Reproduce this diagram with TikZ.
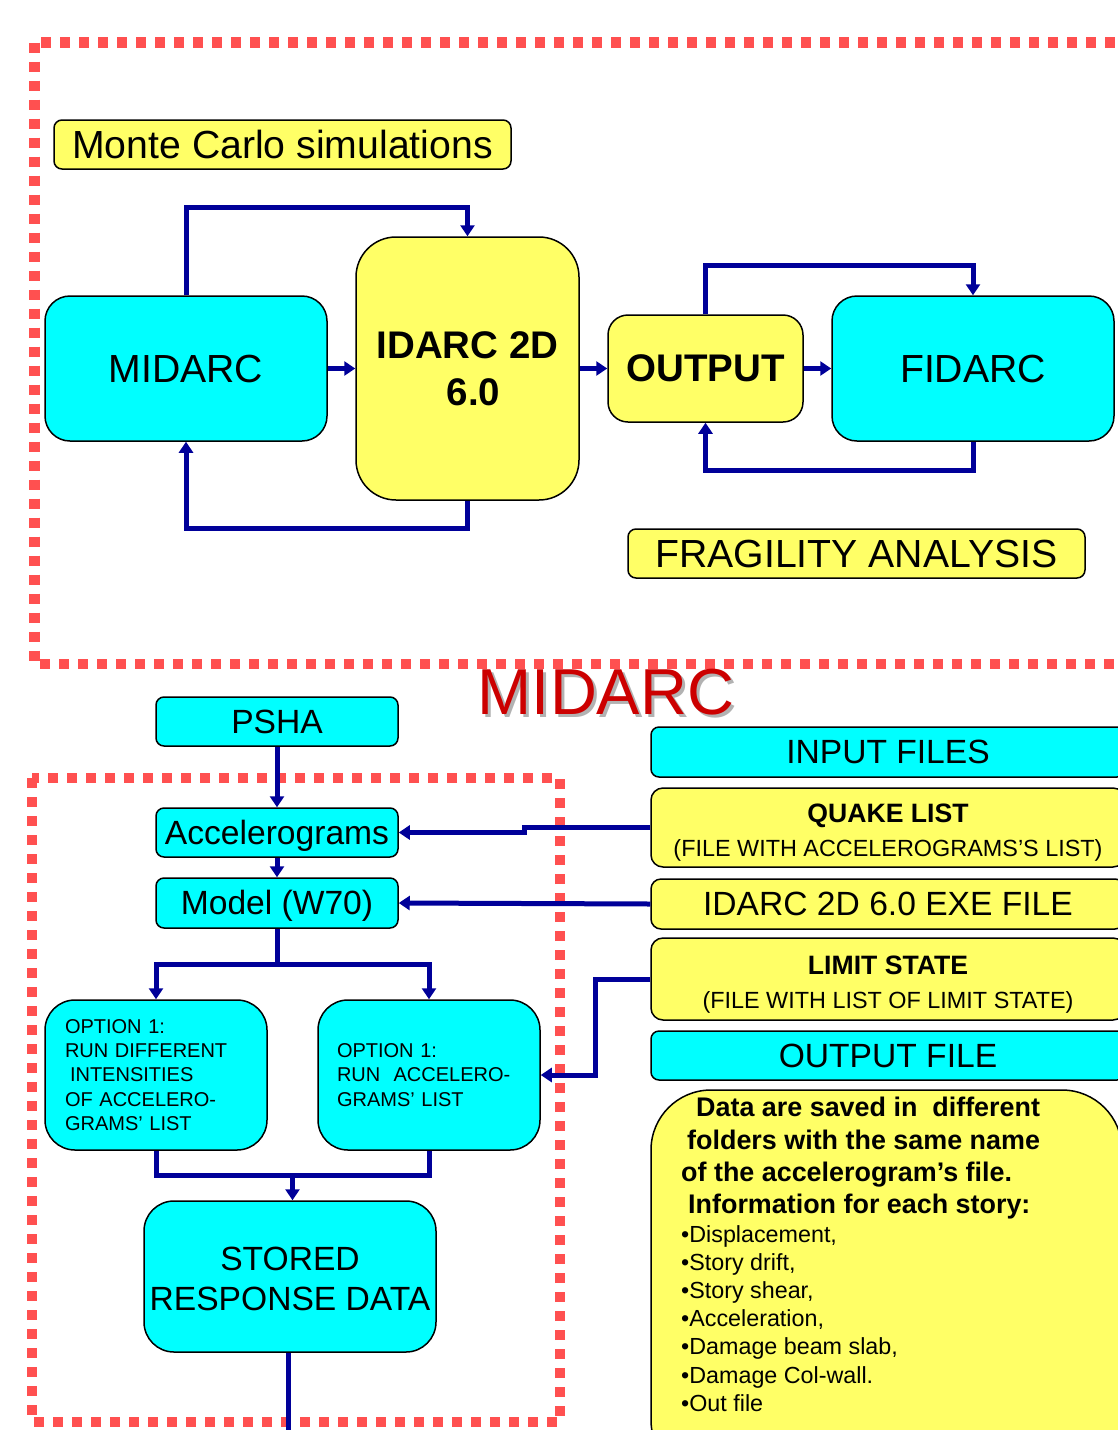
\documentclass[tikz,border=0pt]{standalone}
\usepackage{fontspec}
\setmainfont{Liberation Sans}
\usetikzlibrary{arrows.meta,calc}
\definecolor{cy}{HTML}{00FFFF}
\definecolor{yl}{HTML}{FFFF66}
\definecolor{dred}{HTML}{FF5050}
\definecolor{nav}{HTML}{000099}
\definecolor{tred}{HTML}{CC0000}
\tikzset{
  box/.style={draw=black, line width=1.5pt, align=center, inner sep=0pt},
  cbox/.style={box, fill=cy},
  ybox/.style={box, fill=yl},
  conn/.style={draw=nav, line width=5pt},
  arr/.style={conn, -{Triangle[width=14pt,length=11pt]}},
  redframe/.style={draw=dred, line width=10.5pt, dash pattern=on 10pt off 9pt},
  bigf/.style={font=\fontsize{39.2}{47}\selectfont},
  bigb/.style={font=\bfseries\fontsize{38.5}{47}\selectfont},
  midf/.style={font=\fontsize{33.6}{40}\selectfont},
  optf/.style={font=\fontsize{20}{24.25}\selectfont},
}
\begin{document}
\begin{tikzpicture}[x=1pt,y=-1pt]
\useasboundingbox (0,0) rectangle (1118,1430);
\fill[white] (0,0) rectangle (1118,1430);
\clip (0,0) rectangle (1118,1430);

% dashed frames
\draw[redframe] (34.5,42.5) rectangle (1150,664);
\draw[redframe] (32,778) rectangle (560,1422);

% top part
\node[ybox, rounded corners=8pt, minimum width=457pt, minimum height=49pt, bigf] (monte) at (282.5,144.5) {Monte Carlo simulations};
\node[cbox, rounded corners=25pt, minimum width=282pt, minimum height=145pt, bigf] (midarc) at (186,368.5) {MIDARC};
\node[ybox, rounded corners=40pt, minimum width=223pt, minimum height=263pt, bigb] (idarc) at (467.5,368.5) {IDARC 2D\\\hspace*{12pt}6.0};
\node[ybox, rounded corners=20pt, minimum width=195pt, minimum height=107pt, bigb] (output) at (705.5,368.5) {OUTPUT};
\node[cbox, rounded corners=25pt, minimum width=282pt, minimum height=145pt, bigf] (fidarc) at (973,368.5) {FIDARC};
\node[ybox, rounded corners=8pt, minimum width=457pt, minimum height=49pt, bigf] (frag) at (856.5,553.5) {FRAGILITY ANALYSIS};

\draw[arr] (midarc.east) -- (idarc.west);
\draw[arr] (idarc.east) -- (output.west);
\draw[arr] (output.east) -- (fidarc.west);
\draw[arr] (midarc.north) -- ++(0,-88) -| (idarc.north);
\draw[arr] (idarc.south) -- ++(0,28) -| (midarc.south);
\draw[arr] (output.north) -- ++(0,-49) -| (fidarc.north);
\draw[arr] (fidarc.south) -- ++(0,29) -| (output.south);

% title with shadow
\node[font=\fontsize{65}{70}\selectfont, inner sep=0pt] (title) at (606,694) {\rlap{\kern3pt\raisebox{-3pt}{\color{black!30}MIDARC}}\color{tred}MIDARC};

% lower left
\node[cbox, rounded corners=8pt, minimum width=242pt, minimum height=49pt, midf] (psha) at (277,721.5) {PSHA};
\node[cbox, rounded corners=8pt, minimum width=242pt, minimum height=49pt, midf] (accel) at (277,832.5) {\rule{0pt}{30pt}Accelerograms};
\node[cbox, rounded corners=8pt, minimum width=242pt, minimum height=50pt, midf] (model) at (277,903) {\rule{0pt}{30pt}Model (W70)};
\node[cbox, rounded corners=30pt, minimum width=222pt, minimum height=150pt, text width=182pt, inner xsep=20pt, align=left, optf] (optl) at (156,1075) {OPTION 1:\\RUN DIFFERENT\\\hspace*{5pt}INTENSITIES\\OF ACCELERO-\\GRAMS’ LIST};
\node[cbox, rounded corners=30pt, minimum width=222pt, minimum height=150pt, text width=184pt, inner xsep=19pt, align=left, optf] (optr) at (429,1075) {OPTION 1:\\RUN\ \ ACCELERO-\\GRAMS’ LIST};
\node[cbox, rounded corners=30pt, minimum width=292pt, minimum height=151pt, midf] (stored) at (290,1276.5) {\rule{0pt}{28pt}STORED\\RESPONSE DATA};

\draw[arr] (psha.south) -- (accel.north);
\draw[arr] (accel.south) -- (model.north);
\draw[conn] (model.south) -- ++(0,36) coordinate (split);
\draw[arr] (split) -| (optl.north);
\draw[arr] (split) -| (optr.north);
\draw[conn] (optl.south) -- ++(0,25) -| (optr.south);
\coordinate (merge) at ($(optl.south)!0.5!(optr.south)+(0,25)$);
\draw[arr] (merge) -- (merge |- stored.north);
\coordinate (storedout) at ($(stored.south)+(-2,100)$);
\draw[conn] ([xshift=-2pt]stored.south) -- (storedout);

% right column
\node[cbox, rounded corners=8pt, minimum width=474pt, minimum height=50pt, midf] (inp) at (888,752) {INPUT FILES};
\node[ybox, rounded corners=12pt, minimum width=474pt, minimum height=79pt, font=\fontsize{23.4}{34}\selectfont] (quake) at (888,827.5) {{\bfseries\fontsize{26.6}{32}\selectfont\rule{0pt}{28pt}QUAKE LIST}\\(FILE WITH ACCELEROGRAMS’S LIST)};
\node[ybox, rounded corners=10pt, minimum width=474pt, minimum height=50pt, midf] (exe) at (888,904) {IDARC 2D 6.0 EXE FILE};
\node[ybox, rounded corners=12pt, minimum width=474pt, minimum height=82pt, font=\fontsize{23.4}{34}\selectfont] (limit) at (888,979) {{\bfseries\fontsize{26.6}{32}\selectfont\rule{0pt}{29pt}LIMIT STATE}\\(FILE WITH LIST OF LIMIT STATE)};
\node[cbox, rounded corners=8pt, minimum width=474pt, minimum height=49pt, midf] (outf) at (888,1055.5) {OUTPUT FILE};
\node[ybox, rounded corners=60pt, minimum width=471pt, minimum height=390pt] (datab) at (886.5,1285) {};
\node[anchor=north west, inner sep=0pt, align=left, font=\bfseries\fontsize{26.9}{32.4}\selectfont] (datatxt) at (681,1097) {\hspace*{15pt}Data are saved in\ \ different\\\hspace*{6pt}folders with the same name\\of the accelerogram’s file.\\\hspace*{7pt}Information for each story:};
\node[anchor=north west, inner sep=0pt, align=left, font=\fontsize{23.3}{28.2}\selectfont] (datalist) at (681,1225) {•Displacement,\\•Story drift,\\•Story shear,\\•Acceleration,\\•Damage beam slab,\\•Damage Col-wall.\\•Out file};

\draw[arr] (quake.west) -- ++(-126,0) |- (accel.east);
\draw[arr] (exe.west) -- (model.east);
\draw[arr] (limit.west) -- ++(-55,0) |- (optr.east);
\end{tikzpicture}
\end{document}
